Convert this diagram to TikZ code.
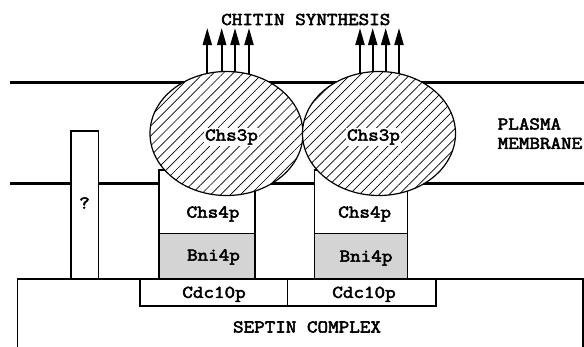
\documentclass[tikz,border=0pt]{standalone}
\usepackage{fontspec}
\newfontfamily\cour{Latin Modern Mono}[FakeStretch=1.14, FakeBold=3]
\usetikzlibrary{patterns.meta,shapes.geometric,arrows.meta}
\begin{document}
\begin{tikzpicture}[x=1pt,y=-1pt,
  lbl/.style={font=\cour\fontsize{18}{20}\selectfont, inner sep=1pt},
  memb/.style={line width=3pt},
  box/.style={draw, line width=1.6pt, fill=white, rectangle, inner sep=0pt},
  graybox/.style={box, fill=black!17},
  chs/.style={draw, ellipse, line width=1.2pt, fill=white, inner sep=0pt,
    minimum width=153pt, minimum height=124pt,
    postaction={pattern={Lines[angle=45,distance=7pt,line width=0.7pt]}}},
  up/.style={line width=2pt, -{Triangle[length=17pt,width=9pt]}}]
\path[use as bounding box] (0,0) rectangle (584,346);
\clip (0,0) rectangle (584,346);
% membranes
\coordinate (tl) at (10,82.5);
\coordinate (tr) at (584,82.5);
\coordinate (bl) at (10,183);
\coordinate (br) at (584,183);
\draw[memb] (tl) -- (tr);
\draw[memb] (bl) -- (br);
% boxes
\node[box, minimum width=27.6pt, minimum height=148.3pt] (qbox) at (84.5,204.85) {};
\node[box, minimum width=565.4pt, minimum height=81pt] (septin) at (300,319.5) {};
\node[box, minimum width=147.3pt, minimum height=27pt] (cdcA) at (213.65,292.5) {};
\node[box, minimum width=148.7pt, minimum height=27pt] (cdcB) at (361.65,292.5) {};
\node[box, minimum width=96.3pt, minimum height=63.3pt] (chsA) at (206.85,201.65) {};
\node[box, minimum width=93pt, minimum height=63.3pt] (chsB) at (360.8,201.65) {};
\node[graybox, minimum width=96.3pt, minimum height=45.7pt] (bniA) at (206.85,256.15) {};
\node[graybox, minimum width=93pt, minimum height=45.7pt] (bniB) at (360.8,256.15) {};
% arrows
\foreach \i/\x in {1/207.3,2/221.7,3/235,4/249,5/360,6/372.7,7/385.7,8/399}{
  \coordinate (b\i) at (\x,82);
  \coordinate (t\i) at (\x,28);
  \draw[up] (b\i) -- (t\i);
}
% ellipses
\node[chs] (elA) at (226.5,133.5) {};
\node[chs] (elB) at (379,133.5) {};
% labels
\node[lbl] (chitin) at (305.8,19.5) {CHITIN SYNTHESIS};
\node[lbl, fill=white] (c3A) at (231.5,137) {Chs3p};
\node[lbl, fill=white] (c3B) at (373.5,137) {Chs3p};
\node[lbl, anchor=west] (pm1) at (496.5,124) {PLASMA};
\node[lbl, anchor=west] (pm2) at (496.5,143.3) {MEMBRANE};
\node[lbl] (q) at (84.5,203) {?};
\node[lbl] (c4A) at (213,214) {Chs4p};
\node[lbl] (c4B) at (364.7,214) {Chs4p};
\node[lbl] (b4A) at (213.5,257) {Bni4p};
\node[lbl] (b4B) at (366,258) {Bni4p};
\node[lbl] (cdA) at (214,294.3) {Cdc10p};
\node[lbl] (cdB) at (364,294.3) {Cdc10p};
\node[lbl] (sep) at (307,327) {SEPTIN COMPLEX};
\end{tikzpicture}
\end{document}
